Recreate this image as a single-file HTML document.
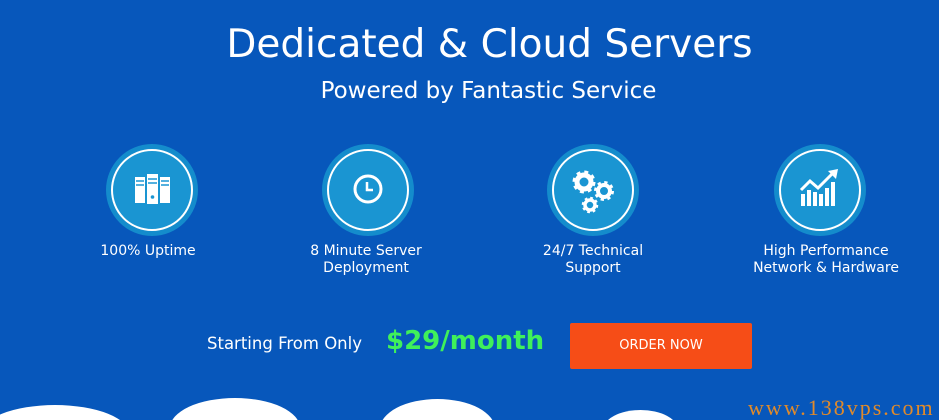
<!DOCTYPE html>
<html><head><style>
html,body{margin:0;padding:0;width:939px;height:420px;overflow:hidden}
body{background:#0757bb;position:relative;font-family:"DejaVu Sans","Liberation Sans",sans-serif;color:#fff}
#w{position:absolute;left:0;top:0;width:939px;height:420px;overflow:hidden}
.t{position:absolute;width:100%;text-align:center}
.ic{position:absolute;width:92px;height:92px;border-radius:50%;background:#148ccc}
.ic .r{position:absolute;left:5px;top:5px;width:78px;height:78px;border:2px solid #fff;border-radius:50%;background:#1a95d2}
.lab{position:absolute;width:200px;text-align:center;font-size:14px;line-height:17px}
.cl{position:absolute;background:#fff;border-radius:50%}
</style></head><body><div id="w">
<div class="t" style="top:22px;left:20px;font-size:39px">Dedicated &amp; Cloud Servers</div>
<div class="t" style="top:78px;left:19px;font-size:23px">Powered by Fantastic Service</div>

<div class="ic" style="left:106px;top:144px"><div class="r"></div>
<svg style="position:absolute;left:0;top:0" width="92" height="92"><g fill="#fff"><rect x="29" y="33" width="10" height="26"/><rect x="41" y="30" width="11" height="30"/><rect x="54" y="33" width="10" height="26"/></g><g stroke="#1a95d2" stroke-width="1.5"><line x1="30" y1="37" x2="38" y2="37"/><line x1="30" y1="41" x2="38" y2="41"/><line x1="42" y1="35" x2="51" y2="35"/><line x1="42" y1="39" x2="51" y2="39"/><line x1="55" y1="37" x2="63" y2="37"/><line x1="55" y1="41" x2="63" y2="41"/></g><circle cx="46.5" cy="53" r="1.8" fill="#1a95d2"/></svg></div>
<div class="ic" style="left:322px;top:144px"><div class="r"></div>
<svg style="position:absolute;left:0;top:0" width="92" height="92"><circle cx="46" cy="45" r="13" fill="none" stroke="#fff" stroke-width="3"/><path d="M45 38v8h6" fill="none" stroke="#fff" stroke-width="2.5"/></svg></div>
<div class="ic" style="left:547px;top:144px"><div class="r"></div>
<svg style="position:absolute;left:0;top:0" width="92" height="92"><g fill="none" stroke="#fff"><circle cx="37" cy="38" r="9" stroke-width="5" stroke-dasharray="3.5 3.57"/><circle cx="37" cy="38" r="7" stroke-width="5"/><circle cx="57" cy="47" r="8" stroke-width="4" stroke-dasharray="3 3.28"/><circle cx="57" cy="47" r="6" stroke-width="4"/><circle cx="43" cy="61" r="6.5" stroke-width="3.5" stroke-dasharray="2.5 2.6"/><circle cx="43" cy="61" r="5" stroke-width="3.5"/></g></svg></div>
<div class="ic" style="left:774px;top:144px"><div class="r"></div>
<svg style="position:absolute;left:0;top:0" width="92" height="92"><g fill="#fff"><rect x="27" y="50" width="4" height="12"/><rect x="33" y="46" width="4" height="16"/><rect x="39" y="48" width="4" height="14"/><rect x="45" y="50" width="4" height="12"/><rect x="51" y="44" width="4" height="18"/><rect x="57" y="38" width="4" height="24"/></g><path d="M27 46l9-9 8 7 14-14" fill="none" stroke="#fff" stroke-width="3"/><path d="M54 27l10-2-2 10z" fill="#fff"/></svg></div>

<div class="lab" style="left:48px;top:243px">100% Uptime</div>
<div class="lab" style="left:266px;top:243px">8 Minute Server<br>Deployment</div>
<div class="lab" style="left:493px;top:243px">24/7 Technical<br>Support</div>
<div class="lab" style="left:726px;top:243px">High Performance<br>Network &amp; Hardware</div>

<div style="position:absolute;left:207px;top:334px;font-size:16.5px">Starting From Only</div>
<div style="position:absolute;left:386px;top:326px;font-size:26px;font-weight:bold;color:#3ff05a">$29/month</div>
<div style="position:absolute;left:570px;top:323px;width:182px;height:46px;background:#f64d17;border-radius:2px;font-size:13px;line-height:46px;text-align:center">ORDER NOW</div>

<div class="cl" style="left:-20px;top:405px;width:150px;height:60px"></div>
<div class="cl" style="left:170px;top:398px;width:130px;height:60px"></div>
<div class="cl" style="left:380px;top:399px;width:115px;height:60px"></div>
<div class="cl" style="left:603px;top:410px;width:75px;height:40px"></div>
<div style="position:absolute;left:748px;top:395px;font-family:'Liberation Serif',serif;font-size:22px;letter-spacing:2px;color:#e08a2a">www.138vps.com</div>
</div></body></html>
